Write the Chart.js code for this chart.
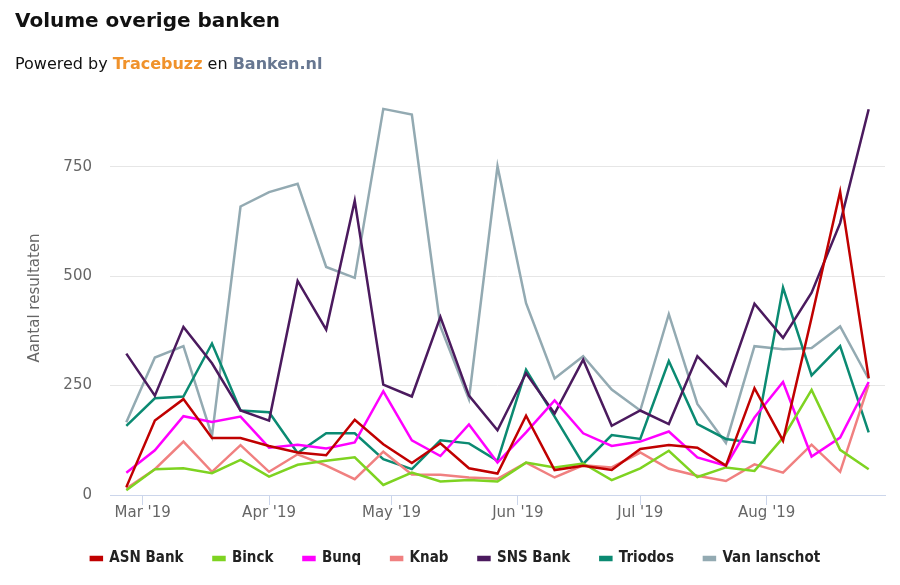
<!DOCTYPE html>
<html lang="nl">
  <head>
    <meta charset="UTF-8" />
    <title>Volume overige banken</title>
    <style>
      body {
        margin: 0;
        width: 900px;
        height: 585px;
        overflow: hidden;
        background: #fff;
        font-family: "DejaVu Sans", Verdana, sans-serif;
        position: relative;
      }
      .title {
        position: absolute;
        left: 15px;
        top: 8px;
        font-size: 20px;
        font-weight: bold;
        color: #111;
      }
      .subtitle {
        position: absolute;
        left: 15px;
        top: 54px;
        font-size: 16px;
        color: #111;
      }
      .subtitle .tb {
        color: #f0922b;
        font-weight: bold;
      }
      .subtitle .bn {
        color: #677791;
        font-weight: bold;
      }
      .chart-box {
        position: absolute;
        left: 0;
        top: 0;
        width: 900px;
        height: 585px;
      }
    </style>
  </head>
  <body>
    <div class="chart-box">
      <canvas id="volumeChart"></canvas>
    </div>
    <div class="title">Volume overige banken</div>
    <div class="subtitle">
      Powered by <span class="tb">Tracebuzz</span> en
      <span class="bn">Banken.nl</span>
    </div>

    <script src="https://cdn.jsdelivr.net/npm/chart.js@4.4.1/dist/chart.umd.min.js"></script>
    <script>
      // weken (maandag)
      const weeks = [
        "2019-02-25", "2019-03-04", "2019-03-11", "2019-03-18", "2019-03-25",
        "2019-04-01", "2019-04-08", "2019-04-15", "2019-04-22", "2019-04-29",
        "2019-05-06", "2019-05-13", "2019-05-20", "2019-05-27", "2019-06-03",
        "2019-06-10", "2019-06-17", "2019-06-24", "2019-07-01", "2019-07-08",
        "2019-07-15", "2019-07-22", "2019-07-29", "2019-08-05", "2019-08-12",
        "2019-08-19", "2019-08-26",
      ];

      const asnBank = [18, 170, 219, 130, 130, 112, 97, 91, 172, 116, 73, 118, 61, 49, 181, 57, 67, 57, 105, 114, 108, 67, 244, 124, 405, 693, 267];
      const binck = [11, 59, 61, 50, 80, 42, 69, 78, 86, 23, 51, 31, 34, 31, 74, 63, 72, 34, 61, 101, 41, 63, 55, 131, 240, 103, 59];
      const bunq = [51, 102, 180, 167, 179, 108, 115, 106, 120, 237, 125, 89, 161, 74, 143, 216, 141, 112, 122, 145, 86, 67, 177, 258, 88, 131, 258];
      const knab = [15, 59, 122, 53, 114, 53, 93, 67, 36, 99, 47, 46, 40, 37, 74, 40, 68, 63, 97, 60, 44, 32, 70, 51, 115, 53, 252];
      const snsBank = [323, 227, 384, 301, 193, 170, 489, 378, 672, 252, 225, 407, 227, 148, 278, 186, 309, 158, 193, 162, 317, 250, 437, 359, 462, 621, 881];
      const triodos = [158, 221, 225, 346, 193, 189, 96, 141, 141, 82, 59, 125, 118, 78, 286, 179, 71, 137, 128, 306, 162, 128, 119, 474, 273, 340, 143];
      const vanLanschot = [166, 314, 340, 135, 659, 692, 711, 521, 496, 882, 869, 385, 219, 751, 438, 266, 317, 241, 193, 413, 208, 119, 340, 333, 336, 385, 265];

      const bankNames = ["ASN Bank", "Binck", "Bunq", "Knab", "SNS Bank", "Triodos", "Van lanschot"];
      const bankColors = ["#c00000", "#7ed321", "#ff00ff", "#f08080", "#4b1a5e", "#0b8a72", "#93aab2"];
      const bankValues = [asnBank, binck, bunq, knab, snsBank, triodos, vanLanschot];

      const tickDates = ["2019-03-01", "2019-04-01", "2019-05-01", "2019-06-01", "2019-07-01", "2019-08-01"];
      const tickLabels = ["Mar '19", "Apr '19", "May '19", "Jun '19", "Jul '19", "Aug '19"];
      const yTicks = [0, 250, 500, 750];

      //datum naar dagnummer vanaf eerste week
      const start = Date.parse(weeks[0]);
      function dayNr(s) {
        return (Date.parse(s) - start) / 86400000;
      }
      const tickDays = tickDates.map(dayNr);

      const datasets = bankNames.map((name, i) => ({
        label: name,
        data: bankValues[i].map((v, j) => ({ x: dayNr(weeks[j]), y: v })),
        borderColor: bankColors[i],
        backgroundColor: bankColors[i],
        borderWidth: 2.5,
        pointRadius: 0,
        tension: 0,
      }));

      const axisFont = { family: "'DejaVu Sans', Verdana, sans-serif", size: 15 };

      //legenda iets naar rechts schuiven
      const legendShift = {
        id: "legendShift",
        afterLayout(chart) {
          chart.legend.left += 13;
          chart.legend.right += 13;
        },
      };

      new Chart(document.getElementById("volumeChart"), {
        type: "line",
        data: { datasets: datasets },
        plugins: [legendShift],
        options: {
          responsive: true,
          maintainAspectRatio: false,
          animation: false,
          layout: { padding: { top: 101, right: 15, left: 0, bottom: 9 } },
          scales: {
            x: {
              type: "linear",
              min: -4,
              max: 186,
              afterBuildTicks: (axis) => {
                axis.ticks = tickDays.map((d) => ({ value: d }));
              },
              ticks: {
                color: "#666",
                font: axisFont,
                padding: -1,
                maxRotation: 0,
                autoSkip: false,
                callback: (v) => tickLabels[tickDays.indexOf(v)],
              },
              grid: {
                drawOnChartArea: false,
                drawTicks: true,
                tickLength: 10,
                tickColor: "#ccd6eb",
              },
              border: { color: "#ccd6eb", width: 1 },
            },
            y: {
              min: 0,
              max: 900,
              afterBuildTicks: (axis) => {
                axis.ticks = yTicks.map((v) => ({ value: v }));
              },
              afterFit: (axis) => {
                axis.width = 110;
              },
              ticks: { color: "#666", font: axisFont, padding: 18 },
              grid: { color: "#e6e6e6", drawTicks: false },
              border: { display: false },
              title: {
                display: true,
                text: "Aantal resultaten",
                color: "#666",
                font: axisFont,
                padding: { top: 26 },
              },
            },
          },
          plugins: {
            legend: {
              position: "bottom",
              labels: {
                boxWidth: 11,
                boxHeight: 3,
                padding: 30,
                color: "#222",
                font: {
                  family: "'DejaVu Sans Condensed', 'Liberation Sans Narrow', sans-serif",
                  size: 15,
                  weight: "bold",
                },
              },
            },
            tooltip: { enabled: false },
          },
        },
      });
    </script>
  </body>
</html>
